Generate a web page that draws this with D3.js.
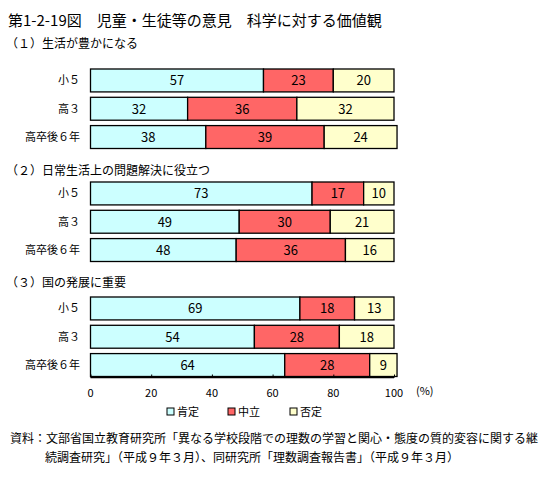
<!DOCTYPE html>
<html><head><meta charset="utf-8">
<script src="https://cdn.jsdelivr.net/npm/d3@7"></script>
<style>body{margin:0;background:#fff}svg{display:block}text{font-family:"Noto Sans CJK JP",sans-serif;fill:#000}</style>
</head><body><svg id="c" width="553" height="477"></svg>
<script>
const title = "第1-2-19図　児童・生徒等の意見　科学に対する価値観";
const groupTitles = ["（１）生活が豊かになる", "（２）日常生活上の問題解決に役立つ", "（３）国の発展に重要"];
const categories = ["小５", "高３", "高卒後６年"];
const seriesNames = ["肯定", "中立", "否定"];
const colors = ["#CCFFFF", "#FF6666", "#FFFFCC"];
const positive = [[57, 32, 38], [73, 49, 48], [69, 54, 64]];
const neutral  = [[23, 36, 39], [17, 30, 36], [18, 28, 28]];
const negative = [[20, 32, 24], [10, 21, 16], [13, 18, 9]];
const ticks = [0, 20, 40, 60, 80, 100];
const source = ["資料：文部省国立教育研究所「異なる学校段階での理数の学習と関心・態度の質的変容に関する継", "続調査研究」（平成９年３月）、同研究所「理数調査報告書」（平成９年３月）"];

const svg = d3.select("#c");
const x = d3.scaleLinear().domain([0, 100]).range([90.5, 394]);
const groupTop = [69, 182, 297];
const groupTitleY = [43, 170, 282];
const row = d3.scaleBand().domain(categories).range([0, 79.5]).paddingInner(0.19).paddingOuter(0);

svg.append("text").attr("x", 8).attr("y", 26).attr("font-size", 15).text(title);

const series = [positive, neutral, negative];
groupTitles.forEach((gt, g) => {
  svg.append("text").attr("x", 6).attr("y", groupTitleY[g] + 5).attr("font-size", 12).text(gt);
  const gg = svg.append("g").attr("transform", `translate(0,${groupTop[g]})`);
  categories.forEach((cat, i) => {
    const y = row(cat), h = row.bandwidth();
    gg.append("text").attr("x", 80).attr("y", y + h / 2 + 4).attr("text-anchor", "end").attr("font-size", 11).text(cat);
    let acc = 0;
    series.forEach((s, k) => {
      const v = s[g][i];
      gg.append("rect").attr("x", x(acc)).attr("y", y).attr("width", x(acc + v) - x(acc)).attr("height", h)
        .attr("fill", colors[k]).attr("stroke", "#000").attr("stroke-width", 1.3);
      gg.append("text").attr("x", (x(acc) + x(acc + v)) / 2).attr("y", y + h / 2 + 5)
        .attr("text-anchor", "middle").attr("font-size", 13).attr("font-family", "'Liberation Mono',monospace").text(v);
      acc += v;
    });
  });
});

// axis
const axisG = svg.append("g").attr("transform", "translate(0,377.5)");
axisG.call(d3.axisTop(x).tickValues(ticks).tickSize(3).tickFormat(""));
axisG.select(".domain").attr("stroke", "#000").attr("stroke-width", 1.3).attr("d", `M${x(0)},0H${x(100)}`);
axisG.selectAll(".tick line").attr("stroke", "#000");
ticks.forEach(t => {
  svg.append("text").attr("x", x(t)).attr("y", 397).attr("text-anchor", "middle").attr("font-size", 11)
    .attr("font-family", "'Liberation Mono',monospace").text(t);
});
svg.append("text").attr("x", 416).attr("y", 395).attr("font-size", 11).text("(%)");

// legend
const legX = [167, 228, 290];
seriesNames.forEach((n, k) => {
  svg.append("rect").attr("x", legX[k]).attr("y", 408).attr("width", 7).attr("height", 7)
    .attr("fill", colors[k]).attr("stroke", "#000").attr("stroke-width", 1);
  svg.append("text").attr("x", legX[k] + 10).attr("y", 416).attr("font-size", 11).text(n);
});

svg.append("text").attr("x", 10).attr("y", 443).attr("font-size", 12).text(source[0]);
svg.append("text").attr("x", 45).attr("y", 462).attr("font-size", 12).text(source[1]);
</script></body></html>
